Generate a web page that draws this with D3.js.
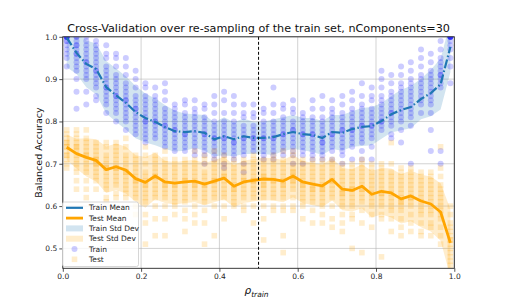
<!DOCTYPE html>
<meta charset="utf-8">
<title>Cross-Validation over re-sampling</title>
<style>
  body { margin: 0; background: #fff; }
  svg { display: block; font-family: "DejaVu Sans", sans-serif; }
  .grid line { stroke: #b0b0b0; stroke-width: 0.8px; stroke-opacity: 0.7; }
  .tick text { fill: #262626; font-size: 7.5px; }
  .legend text { fill: #262626; font-size: 7.5px; }
</style>
<svg width="505" height="303"></svg>
<script src="https://cdn.jsdelivr.net/npm/d3@7"></script>
<script>
  // resampling ratios (x of each column)
  var rho = [0.01, 0.035, 0.06, 0.085, 0.111, 0.136, 0.161, 0.186, 0.211, 0.236,
    0.261, 0.286, 0.312, 0.337, 0.362, 0.387, 0.412, 0.437, 0.462, 0.487,
    0.513, 0.538, 0.563, 0.588, 0.613, 0.638, 0.663, 0.688, 0.714, 0.739,
    0.764, 0.789, 0.814, 0.839, 0.864, 0.889, 0.915, 0.94, 0.965, 0.99];

  var trainMean = [0.998, 0.962, 0.936, 0.924, 0.881, 0.862, 0.844, 0.822, 0.808, 0.799,
    0.787, 0.777, 0.775, 0.777, 0.773, 0.758, 0.765, 0.758, 0.765, 0.761,
    0.761, 0.763, 0.770, 0.775, 0.770, 0.768, 0.761, 0.775, 0.773, 0.782,
    0.787, 0.789, 0.801, 0.817, 0.827, 0.834, 0.853, 0.867, 0.888, 0.976];

  var trainStd = [0.07, 0.05, 0.055, 0.06, 0.062, 0.063, 0.063, 0.062, 0.058, 0.055,
    0.052, 0.048, 0.044, 0.04, 0.042, 0.04, 0.045, 0.04, 0.042, 0.038,
    0.038, 0.042, 0.04, 0.04, 0.038, 0.04, 0.04, 0.04, 0.042, 0.042,
    0.045, 0.045, 0.042, 0.043, 0.048, 0.05, 0.048, 0.055, 0.06, 0.06];

  var testMean = [0.739, 0.724, 0.715, 0.708, 0.686, 0.693, 0.685, 0.665, 0.656, 0.671,
    0.657, 0.654, 0.657, 0.659, 0.652, 0.659, 0.666, 0.647, 0.657, 0.661,
    0.664, 0.663, 0.659, 0.671, 0.657, 0.652, 0.648, 0.663, 0.640, 0.637,
    0.647, 0.628, 0.635, 0.631, 0.617, 0.624, 0.612, 0.605, 0.586, 0.513];

  var testStd = [0.03, 0.035, 0.045, 0.05, 0.055, 0.055, 0.055, 0.055, 0.06, 0.055,
    0.05, 0.05, 0.05, 0.05, 0.05, 0.05, 0.05, 0.05, 0.05, 0.05,
    0.05, 0.05, 0.05, 0.05, 0.05, 0.05, 0.05, 0.05, 0.05, 0.05,
    0.052, 0.055, 0.055, 0.058, 0.058, 0.06, 0.062, 0.065, 0.068, 0.08];

  // individual resampling scores, per column, in percent
  var trainPts = [
    "100 100 100 100 100 100 99 99 98 97 96 95 93",
    "100 100 99 98 98 97 96 96 95 94 93 92 90 87 83",
    "100 99 98 97 96 95 94 94 93 92 91 90 87 84",
    "99 98 97 96 95 94 93 92 92 91 90 89 88 86 85",
    "98 96 95 93 92 91 90 89 88 88 87 86 85 84 82",
    "96 95 93 91 90 89 88 87 86 86 85 84 83 82 80",
    "95 93 91 89 88 87 86 85 85 84 83 82 81 80 78",
    "92 90 88 86 85 84 83 83 82 81 80 79 78 77",
    "89 88 86 85 84 83 82 81 80 80 79 78 77 76 75",
    "88 86 85 84 83 82 81 80 80 79 78 77 76",
    "89 87 85 83 82 81 80 79 79 78 77 76 75 74",
    "84 83 82 81 80 79 78 78 77 76 75 74 73",
    "85 84 82 81 80 79 78 77 77 76 75 74 73",
    "85 83 82 81 80 79 78 77 76 75 74 73 72",
    "84 83 81 80 79 78 77 77 76 75 74 73 72 70",
    "86 84 82 80 79 78 77 76 76 75 74 73 72 71",
    "87 85 82 80 79 78 77 76 76 75 74 73 72 70 69",
    "86 84 82 80 79 78 77 76 75 75 74 73 72 71",
    "84 82 81 79 78 77 76 76 75 74 73 72 70 68",
    "84 82 81 79 78 77 76 76 75 74 73",
    "83 82 80 79 78 77 76 76 75 74 73 72 71",
    "88 84 82 80 79 78 77 76 76 75 74 73 72 71",
    "84 83 81 80 79 78 77 77 76 75 74 73 72",
    "85 83 82 80 79 78 78 77 76 75 74 73 72 70",
    "82 81 80 79 78 77 77 76 75 74 73 72 70",
    "85 83 81 80 79 78 77 77 76 75 74 73 72 71",
    "86 83 81 80 79 78 77 76 75 75 74 73 72 71",
    "85 83 82 81 80 79 78 77 77 76 75 74 73 71",
    "86 84 82 81 80 79 78 78 77 76 75 74 73 72 70",
    "87 85 83 82 81 80 79 78 78 77 76 75 74 71",
    "89 86 84 83 82 81 80 79 79 78 77 76 75 73 71",
    "88 86 85 83 82 81 80 79 79 78 77 76 74 71",
    "92 90 88 86 85 84 83 82 81 80 80 79 78",
    "91 89 87 86 85 84 83 82 82 81 80 79 77 76",
    "93 91 89 88 87 86 85 84 83 82 81 80 78 75",
    "94 92 90 89 88 87 86 85 84 83 82 81 79 70",
    "97 95 93 91 90 89 88 87 86 85 84 82",
    "96 94 92 91 90 89 88 87 86 85 84 82 78 73",
    "99 97 95 94 93 92 91 91 90 89 88 73 70",
    "100 100 100 100 100 100 100 99 98 97 95 93 89"
  ];

  var testPts = [
    "78 77 76 75 75 74 74 73 72 72 71 70 69",
    "78 77 76 75 74 74 73 72 71 70 69 68 66 64",
    "78 76 75 74 73 72 72 71 70 69 68 66 64 62",
    "75 74 73 72 71 71 70 70 69 68 67 66 64",
    "75 74 72 71 70 69 69 68 67 66 65 64 62 61",
    "75 74 73 72 71 70 69 69 68 67 66 65 63 62",
    "76 74 72 71 70 69 68 68 67 66 65 64 63 62",
    "72 71 70 69 68 67 66 66 65 64 63 62 60 58",
    "74 72 70 68 67 66 65 65 64 63 62 61 58 56 51",
    "72 71 70 69 68 67 67 66 65 64 63 62 60 57 53",
    "73 71 70 69 68 67 66 65 65 64 63 62 60 57 53",
    "71 70 69 68 67 66 65 65 64 63 62 61 60 58",
    "71 70 69 68 67 66 66 65 64 63 62 61 59 57 54",
    "73 71 70 69 68 67 66 65 65 64 63 62 60 58 56",
    "72 71 70 68 67 66 65 65 64 63 62 61 59 56 51",
    "73 71 70 69 68 67 66 66 65 64 63 62 60 53",
    "72 71 70 69 68 67 67 66 65 64 63 62 60 57",
    "71 70 69 68 67 66 65 64 64 63 62 61 60",
    "71 70 69 68 67 66 66 65 64 63 62 60 59",
    "72 71 70 69 68 67 66 66 65 64 63 62 60 56",
    "71 70 69 68 67 67 66 65 65 64 63 62 60 57 52",
    "72 71 70 69 68 67 66 66 65 64 63 62 60 59",
    "73 71 70 69 68 67 66 65 65 64 63 62 60 59 53 49",
    "73 72 70 69 68 68 67 66 66 65 64 62 60 59",
    "71 70 69 68 67 66 65 65 64 63 62 61 60 57",
    "71 70 69 68 67 66 65 64 64 63 62 61 59 56",
    "71 70 69 68 67 66 65 64 64 63 62 61 60 58 56",
    "71 70 69 68 67 66 66 65 64 63 62 60 57 55",
    "70 69 68 67 66 65 64 63 63 62 61 60 58 56 54",
    "70 69 68 67 66 65 64 64 63 62 61 60 58 57 50",
    "71 70 69 68 67 66 65 64 64 63 62 61 59 56 49",
    "70 69 68 67 66 65 64 63 62 61 60 58 55",
    "70 69 68 67 66 65 64 63 63 62 61 60 58 57 48",
    "75 70 68 67 66 65 64 63 62 61 60 59 57 54",
    "69 68 67 66 65 64 63 62 61 61 60 59 57 55 53",
    "69 68 67 66 65 64 63 62 62 61 60 58 56 54",
    "68 67 66 65 64 63 62 61 60 59 58 56 54 53",
    "68 67 66 65 64 63 62 61 60 59 58 56 55 53",
    "74 69 67 65 64 63 62 61 60 59 58 57 55 53 51",
    "60 58 56 55 54 53 52 52 51 50 49 48 47 46"
  ];

  var xTicks = [0, 0.2, 0.4, 0.6, 0.8, 1.0];
  var yTicks = [0.5, 0.6, 0.7, 0.8, 0.9, 1.0];
  var splitRho = 0.5;

  var svg = d3.select("svg"),
    plotLeft = 62.8, plotRight = 454.3, plotTop = 36.8, plotBottom = 268.3;

  var x = d3.scaleLinear().domain([0, 1]).range([plotLeft, plotRight]);
  var y = d3.scaleLinear().domain([0.453, 1.0]).range([plotBottom, plotTop]);

  var cols = rho.map(function(r, i) {
    return {
      rho: r,
      trMean: trainMean[i], trStd: trainStd[i],
      teMean: testMean[i], teStd: testStd[i],
      tr: trainPts[i].split(" ").map(function(s) { return +s / 100; }),
      te: testPts[i].split(" ").map(function(s) { return +s / 100; })
    };
  });

  svg.append("defs").append("clipPath").attr("id", "clip")
    .append("rect").attr("x", plotLeft).attr("y", plotTop)
    .attr("width", plotRight - plotLeft).attr("height", plotBottom - plotTop);

  // grid
  var grid = svg.append("g").attr("class", "grid");
  grid.selectAll(".gx").data(xTicks).enter().append("line")
    .attr("x1", function(d) { return x(d); }).attr("x2", function(d) { return x(d); })
    .attr("y1", plotTop).attr("y2", plotBottom);
  grid.selectAll(".gy").data(yTicks).enter().append("line")
    .attr("x1", plotLeft).attr("x2", plotRight)
    .attr("y1", function(d) { return y(d); }).attr("y2", function(d) { return y(d); });

  var plot = svg.append("g").attr("clip-path", "url(#clip)");

  var bandTrain = d3.area()
    .x(function(d) { return x(d.rho); })
    .y0(function(d) { return y(d.trMean - d.trStd); })
    .y1(function(d) { return y(d.trMean + d.trStd); });
  var bandTest = d3.area()
    .x(function(d) { return x(d.rho); })
    .y0(function(d) { return y(d.teMean - d.teStd); })
    .y1(function(d) { return y(d.teMean + d.teStd); });

  plot.append("path").datum(cols).attr("d", bandTrain)
    .attr("fill", "#1f77b4").attr("fill-opacity", 0.2);
  plot.append("path").datum(cols).attr("d", bandTest)
    .attr("fill", "orange").attr("fill-opacity", 0.2);

  // scatter
  var trDots = [], teDots = [];
  cols.forEach(function(c) {
    c.tr.forEach(function(v) { trDots.push({ rho: c.rho, v: v }); });
    c.te.forEach(function(v) { teDots.push({ rho: c.rho, v: v }); });
  });

  plot.append("g").selectAll("circle").data(trDots).enter().append("circle")
    .attr("cx", function(d) { return x(d.rho); })
    .attr("cy", function(d) { return y(d.v); })
    .attr("r", 3.0)
    .attr("fill", "blue").attr("fill-opacity", 0.2);

  plot.append("g").selectAll("rect").data(teDots).enter().append("rect")
    .attr("x", function(d) { return x(d.rho) - 2.8; })
    .attr("y", function(d) { return y(d.v) - 2.8; })
    .attr("width", 5.6).attr("height", 5.6)
    .attr("fill", "orange").attr("fill-opacity", 0.2);

  var lineTrain = d3.line()
    .x(function(d) { return x(d.rho); })
    .y(function(d) { return y(d.trMean); });
  var lineTest = d3.line()
    .x(function(d) { return x(d.rho); })
    .y(function(d) { return y(d.teMean); });

  plot.append("path").datum(cols).attr("d", lineTest)
    .attr("fill", "none").attr("stroke", "orange").attr("stroke-width", 2.8)
    .attr("stroke-linejoin", "round");
  plot.append("path").datum(cols).attr("d", lineTrain)
    .attr("fill", "none").attr("stroke", "#1f77b4").attr("stroke-width", 2.2)
    .attr("stroke-dasharray", "9,2.5,1.5,2.5");

  // split marker
  svg.append("line")
    .attr("x1", x(splitRho)).attr("x2", x(splitRho))
    .attr("y1", plotTop).attr("y2", plotBottom)
    .attr("stroke", "#000").attr("stroke-width", 1)
    .attr("stroke-dasharray", "3,2");

  // axes
  var xAxis = svg.append("g").attr("transform", "translate(0," + plotBottom + ")")
    .call(d3.axisBottom(x).tickValues(xTicks).tickFormat(d3.format(".1f")).tickSize(3.5).tickPadding(2));
  var yAxis = svg.append("g").attr("transform", "translate(" + plotLeft + ",0)")
    .call(d3.axisLeft(y).tickValues(yTicks).tickFormat(d3.format(".1f")).tickSize(3.5).tickPadding(2));
  [xAxis, yAxis].forEach(function(a) {
    a.select(".domain").remove();
    a.selectAll(".tick line").attr("stroke", "#262626").attr("stroke-width", 0.8);
    a.selectAll("text").style("font-family", "DejaVu Sans");
  });

  svg.append("rect")
    .attr("x", plotLeft).attr("y", plotTop)
    .attr("width", plotRight - plotLeft).attr("height", plotBottom - plotTop)
    .attr("fill", "none").attr("stroke", "#262626").attr("stroke-width", 0.9);

  // titles
  svg.append("text")
    .attr("x", (plotLeft + plotRight) / 2).attr("y", 31.5)
    .attr("text-anchor", "middle")
    .style("font-size", "11.2px").style("fill", "#111")
    .text("Cross-Validation over re-sampling of the train set, nComponents=30");

  svg.append("text")
    .attr("transform", "translate(42," + (plotTop + plotBottom) / 2 + ") rotate(-90)")
    .attr("text-anchor", "middle")
    .style("font-size", "9.5px").style("fill", "#111")
    .text("Balanced Accuracy");

  var xl = svg.append("text")
    .attr("x", (plotLeft + plotRight) / 2 - 2).attr("y", 294)
    .attr("text-anchor", "middle")
    .style("font-size", "10.5px").style("fill", "#111").style("font-style", "italic");
  xl.append("tspan").text("\u03c1");
  xl.append("tspan").attr("dy", 2.5).style("font-size", "7.5px").text("train");

  // legend
  var items = [
    { label: "Train Mean", kind: "line", color: "#1f77b4", w: 2.2 },
    { label: "Test Mean", kind: "line", color: "orange", w: 2.8 },
    { label: "Train Std Dev", kind: "patch", color: "#1f77b4" },
    { label: "Test Std Dev", kind: "patch", color: "orange" },
    { label: "Train", kind: "dot", color: "blue" },
    { label: "Test", kind: "square", color: "orange" }
  ];
  var legend = svg.append("g").attr("class", "legend");
  legend.append("rect")
    .attr("x", 62.5).attr("y", 202).attr("width", 76).attr("height", 64.5)
    .attr("rx", 2).attr("fill", "#fff").attr("fill-opacity", 0.8)
    .attr("stroke", "#cccccc").attr("stroke-width", 0.8);
  var row = legend.selectAll(".row").data(items).enter().append("g")
    .attr("transform", function(d, i) { return "translate(0," + (207.8 + i * 10.3) + ")"; });
  row.each(function(d) {
    var g = d3.select(this);
    if (d.kind === "line") {
      g.append("line").attr("x1", 66).attr("x2", 83).attr("y1", 0).attr("y2", 0)
        .attr("stroke", d.color).attr("stroke-width", d.w);
    } else if (d.kind === "patch") {
      g.append("rect").attr("x", 66).attr("y", -3).attr("width", 17).attr("height", 6)
        .attr("fill", d.color).attr("fill-opacity", 0.2);
    } else if (d.kind === "dot") {
      g.append("circle").attr("cx", 74.5).attr("cy", 0).attr("r", 3.0)
        .attr("fill", d.color).attr("fill-opacity", 0.2);
    } else {
      g.append("rect").attr("x", 71.7).attr("y", -2.8).attr("width", 5.6).attr("height", 5.6)
        .attr("fill", d.color).attr("fill-opacity", 0.2);
    }
  });
  row.append("text").attr("x", 89).attr("y", 0).attr("dy", "0.35em")
    .text(function(d) { return d.label; });
</script>
